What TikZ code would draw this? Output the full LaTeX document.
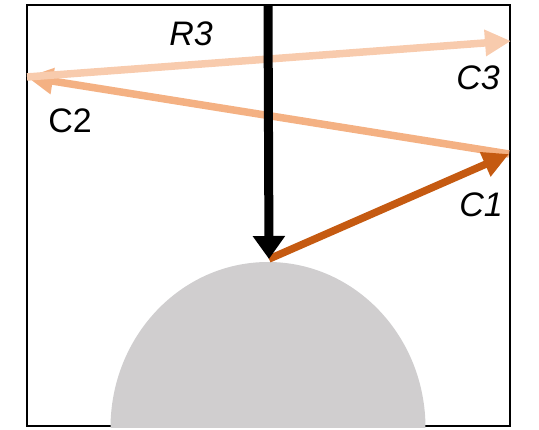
\documentclass[tikz,border=0pt]{standalone}
\usepackage{fontspec}
\setmainfont{Liberation Sans}
\usetikzlibrary{arrows.meta}
\definecolor{cone}{HTML}{C55A11}
\definecolor{ctwo}{HTML}{F4B183}
\definecolor{cthree}{HTML}{F8CBAD}
\definecolor{dome}{HTML}{D0CECF}
\tikzset{
  ray/.style={line width=7.5pt,-{Triangle[length=26pt,width=25pt]}},
  lbl/.style={font=\fontsize{34}{38}\selectfont,inner sep=0pt},
  ilbl/.style={font=\fontsize{34}{38}\selectfont\itshape,inner sep=0pt},
}
\begin{document}
\begin{tikzpicture}[x=1pt,y=-1pt]
\useasboundingbox (0,0) rectangle (539,430);
\draw[line width=2.5pt] (27,5) rectangle (510,426);
\fill[dome] (110.5,428) arc[start angle=180,end angle=360,x radius=157.5,y radius=166] -- cycle;
\coordinate (top) at (268,5);
\coordinate (hit) at (269,259);
\coordinate (p1) at (509,154);
\coordinate (p2) at (27,77);
\coordinate (p3) at (511,41);
\draw[ray,ctwo] (p1) -- (p2);
\draw[ray,cthree] (p2) -- (p3);
\draw[ray,cone] (hit) -- (p1);
\draw[line width=9pt,-{Triangle[length=23pt,width=31pt]}] (top) -- (hit);
\node[ilbl] (r3) at (191,34) {R3};
\node[ilbl] (c3) at (478,78) {C3};
\node[lbl] (c2) at (70,121) {C2};
\node[ilbl] (c1) at (481,205) {C1};
\end{tikzpicture}
\end{document}
